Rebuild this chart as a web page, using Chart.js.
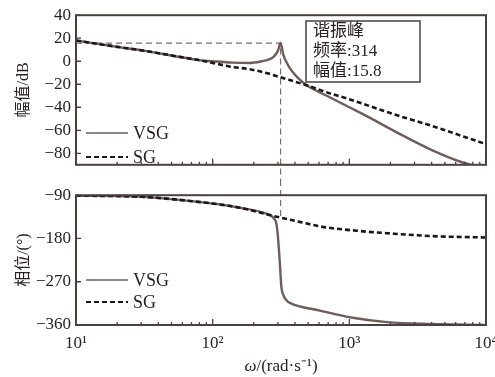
<!DOCTYPE html>
<html>
<head>
<meta charset="utf-8">
<script src="https://cdn.jsdelivr.net/npm/chart.js@4"></script>
<style>
html, body { margin: 0; padding: 0; background: #fff; }
#wrap { position: relative; width: 495px; height: 377px; }
canvas { position: absolute; left: 0; }
#mag { top: 0; }
#phase { top: 180px; }
</style>
</head>
<body>
<div id="wrap">
  <canvas id="mag" width="495" height="180"></canvas>
  <canvas id="phase" width="495" height="197"></canvas>
</div>
<script>
// magnitude (dB)
let vsgMagFreq = [10, 20, 32, 50, 79, 100, 140, 187, 229, 262, 280, 300, 314, 329, 367, 417, 490, 631, 724, 1000, 1259, 2239, 3981, 6761, 10000]
let vsgMag     = [18, 12.5, 9, 5, 1, 0, -1.2, -1.5, 0, 1.8, 4, 9, 15.8, 5.6, -6, -14, -21, -28, -31.5, -40, -46, -62, -77, -88, -93]
let sgMagFreq  = [10, 20, 32, 50, 79, 100, 140, 187, 251, 314, 490, 724, 1000, 1259, 2239, 3981, 6310, 10000]
let sgMag      = [18, 12.5, 9, 5, 1, -1.5, -5, -7, -10.5, -14, -21, -28, -33, -37, -47, -56, -64, -72]

// phase (deg)
let vsgPhaseFreq = [10, 28, 85, 158, 250, 280, 292, 300, 310, 318, 329, 345, 367, 610, 1060, 1884, 3981, 10000]
let vsgPhase     = [-91, -93, -105, -116, -129, -138, -148, -175, -230, -280, -298, -308, -314, -330, -345, -354, -358, -360]
let sgPhaseFreq  = [10, 28, 85, 158, 276, 490, 610, 1138, 1884, 3981, 10000]
let sgPhase      = [-91, -93, -105, -116, -133, -149, -155, -164, -169, -175, -178]

let magTicks = [40, 20, 0, -20, -40, -60, -80]
let phaseTicks = [-90, -180, -270, -360]
let decadeLabels = { 10: '10¹', 100: '10²', 1000: '10³', 10000: '10⁴' }

let peakFreq = 314
let peakMag = 15.8
let guidePhaseEnd = -140

let axisColor = '#4b403e'
let textColor = '#2a2220'
let vsgColor = '#6e5d5b'
let sgColor = '#1c1717'
let guideColor = '#7d6e6c'
let serif = '"Liberation Serif", "Noto Sans CJK SC", serif'

function pts(xs, ys) {
    return xs.map(function (f, i) { return { x: f, y: ys[i] } })
}

function fmt(v) {
    return String(v).replace('-', '−')
}

function logTicks(scale) {
    let t = []
    for (let d = 10; d < 10000; d *= 10) {
        for (let m = 1; m < 10; m++) t.push({ value: m * d, major: m === 1 })
    }
    t.push({ value: 10000, major: true })
    scale.ticks = t
}

// frame, inward ticks, legend, guides
let decor = {
    id: 'decor',
    beforeDatasetsDraw(chart, args, o) {
        let ctx = chart.ctx, x = chart.scales.x, y = chart.scales.y
        ctx.save()
        ctx.strokeStyle = guideColor
        ctx.lineWidth = 1.2
        ctx.setLineDash([6, 4])
        ctx.beginPath()
        let px = x.getPixelForValue(peakFreq)
        if (o.peak) {
            let py = y.getPixelForValue(peakMag)
            ctx.moveTo(chart.chartArea.left, py)
            ctx.lineTo(px, py)
            ctx.lineTo(px, chart.height)
        } else {
            ctx.moveTo(px, 0)
            ctx.lineTo(px, y.getPixelForValue(guidePhaseEnd))
        }
        ctx.stroke()
        ctx.restore()
    },
    afterDatasetsDraw(chart, args, o) {
        let ctx = chart.ctx, a = chart.chartArea, x = chart.scales.x, y = chart.scales.y
        ctx.save()
        ctx.strokeStyle = axisColor
        ctx.lineWidth = 1.3
        ctx.beginPath()
        x.ticks.forEach(function (t) {
            let p = x.getPixelForValue(t.value)
            ctx.moveTo(p, a.bottom)
            ctx.lineTo(p, a.bottom - (t.major ? 6 : 3))
        })
        y.ticks.forEach(function (t) {
            let p = y.getPixelForValue(t.value)
            ctx.moveTo(a.left, p)
            ctx.lineTo(a.left + 5, p)
        })
        ctx.stroke()
        ctx.lineWidth = 2
        ctx.strokeRect(a.left, a.top, a.right - a.left, a.bottom - a.top)

        // legend
        ctx.font = '18px ' + serif
        ctx.textBaseline = 'middle'
        ctx.fillStyle = textColor
        o.legendRows.forEach(function (ry, i) {
            let ds = chart.data.datasets[i]
            ctx.strokeStyle = ds.borderColor
            ctx.lineWidth = i === 0 ? 1.5 : 2
            ctx.setLineDash(ds.borderDash || [])
            ctx.beginPath()
            ctx.moveTo(a.left + 10, ry)
            ctx.lineTo(a.left + 52, ry)
            ctx.stroke()
            ctx.fillText(ds.label, a.left + 57, ry + 1)
        })
        ctx.setLineDash([])

        if (o.peak) {
            ctx.fillStyle = '#fff'
            ctx.fillRect(306, 21, 114, 61)
            ctx.strokeStyle = axisColor
            ctx.lineWidth = 1.5
            ctx.strokeRect(306, 21, 114, 61)
            ctx.fillStyle = textColor
            ctx.font = '17px ' + serif
            ctx.fillText('谐振峰', 313, 32)
            ctx.fillText('频率:' + peakFreq, 313, 52)
            ctx.fillText('幅值:' + peakMag, 313, 72)
        } else {
            let cx = (a.left + a.right) / 2, cy = 187
            ctx.font = 'italic 17px ' + serif
            let w1 = ctx.measureText('ω').width
            ctx.font = '17px ' + serif
            let rest = '/(rad·s⁻¹)'
            let w2 = ctx.measureText(rest).width
            let x0 = cx - (w1 + w2) / 2
            ctx.font = 'italic 17px ' + serif
            ctx.fillText('ω', x0, cy)
            ctx.font = '17px ' + serif
            ctx.fillText(rest, x0 + w1, cy)
        }
        ctx.restore()
    }
}

function makeChart(id, vsgData, sgData, yMin, yMax, yTicks, yTitle, top, xHeight, opts) {
    return new Chart(document.getElementById(id), {
        type: 'line',
        data: {
            datasets: [{
                label: 'VSG',
                data: vsgData,
                borderColor: vsgColor,
                borderWidth: 2.4,
                pointRadius: 0,
                cubicInterpolationMode: 'monotone',
                order: 1
            }, {
                label: 'SG',
                data: sgData,
                borderColor: sgColor,
                borderWidth: 2.6,
                borderDash: [5, 3],
                pointRadius: 0,
                cubicInterpolationMode: 'monotone',
                order: 0
            }]
        },
        options: {
            responsive: false,
            animation: false,
            devicePixelRatio: 1,
            layout: { padding: { left: 0, right: 9, top: top, bottom: 0 } },
            plugins: { legend: { display: false }, tooltip: { enabled: false }, decor: opts },
            scales: {
                x: {
                    type: 'logarithmic',
                    min: 10,
                    max: 10000,
                    afterBuildTicks: logTicks,
                    grid: { display: false, drawTicks: false },
                    border: { display: false },
                    ticks: {
                        display: !opts.peak,
                        autoSkip: false,
                        maxRotation: 0,
                        padding: 8,
                        color: textColor,
                        font: { family: serif, size: 17 },
                        callback: function (v) { return decadeLabels[v] || '' }
                    },
                    afterFit: function (s) { s.height = xHeight; s.paddingLeft = 0; s.paddingRight = 0 }
                },
                y: {
                    min: yMin,
                    max: yMax,
                    afterBuildTicks: function (s) { s.ticks = yTicks.map(function (v) { return { value: v } }) },
                    grid: { display: false, drawTicks: false },
                    border: { display: false },
                    ticks: { padding: 5, color: textColor, font: { family: serif, size: 17 }, callback: fmt },
                    title: { display: true, text: yTitle, color: textColor, font: { family: serif, size: 16 }, padding: { top: 14, bottom: 0 } },
                    afterFit: function (s) { s.width = 76 }
                }
            }
        },
        plugins: [decor]
    })
}

makeChart('mag', pts(vsgMagFreq, vsgMag), pts(sgMagFreq, sgMag), -90, 40, magTicks, '幅值/dB', 13, 10,
    { peak: true, legendRows: [133, 157] })
makeChart('phase', pts(vsgPhaseFreq, vsgPhase), pts(sgPhaseFreq, sgPhase), -360, -90, phaseTicks, '相位/(°)', 7, 52,
    { peak: false, legendRows: [100, 122] })
</script>
</body>
</html>
